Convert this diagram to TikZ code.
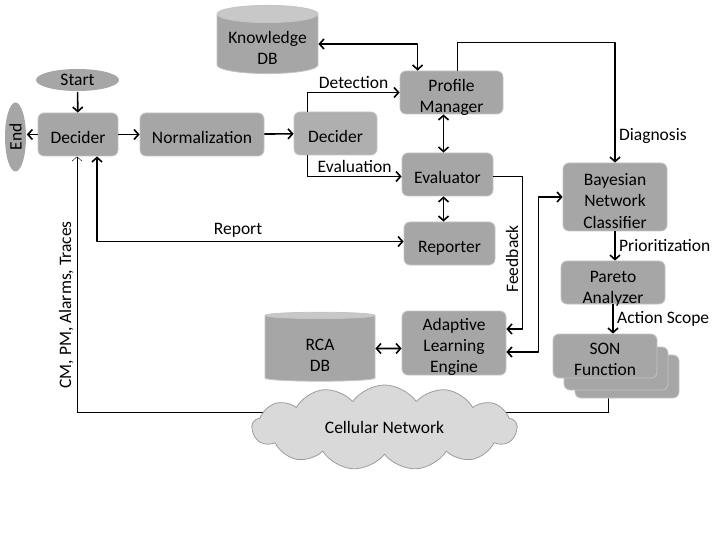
\documentclass[tikz,border=0pt]{standalone}
\usepackage{fontspec}
\setmainfont{Carlito}
\usetikzlibrary{positioning,shapes.geometric,shapes.symbols,arrows.meta,backgrounds}
\definecolor{boxgray}{HTML}{A6A6A6}
\definecolor{boxedge}{HTML}{C4C4C4}
\definecolor{decgray}{HTML}{AFAFAF}
\definecolor{cyltop}{HTML}{C8C8C8}
\definecolor{cloudgray}{HTML}{D9D9D9}
\definecolor{cloudedge}{HTML}{9C9C9C}
\newcommand\tallrow[1][20bp]{\rule{0pt}{#1}}
\tikzset{
  blk/.style={rectangle, rounded corners=6bp, fill=boxgray, draw=boxedge, line width=0.8bp, align=center, inner sep=0pt,
    text depth=0pt, execute at begin node={\tallrow[18bp]}},
  oval/.style={ellipse, fill=boxgray, inner sep=0pt},
  dbase/.style={cylinder, shape border rotate=90, aspect=0.22, cylinder uses custom fill, cylinder body fill=boxgray, cylinder end fill=cyltop, draw=boxedge, line width=0.8bp, align=center, inner sep=0pt, text depth=0pt},
  netcloud/.style={cloud, cloud puffs=13, cloud puff arc=110, aspect=3.1, fill=cloudgray, draw=cloudedge, line width=0.8bp, inner sep=0pt},
}
\begin{document}
\begin{tikzpicture}[x=1bp, y=-1bp, line width=1.6bp, line join=round, >={Straight Barb[length=4.5bp,width=10bp]},
  font=\fontsize{17.5bp}{21bp}\selectfont]
\useasboundingbox (0,0) rectangle (720,540);
% blocks
\node[dbase, minimum width=101bp, minimum height=60bp] (know) at (267.5,44) {\tallrow[21bp]Knowledge\\DB};
\node[oval, minimum width=83bp, minimum height=22bp] (start) at (77.5,80) {Start};
\node[oval, rotate=90, minimum width=69bp, minimum height=21bp] (end) at (15.5,137) {End};
\node[blk, minimum width=80bp, minimum height=43bp] (dec1) at (78,134.5) {Decider};
\node[blk, minimum width=124bp, minimum height=43bp] (norm) at (202,134.5) {Normalization};
\node[blk, fill=decgray, minimum width=83bp, minimum height=43bp] (dec2) at (335.5,133.5) {Decider};
\node[blk, minimum width=103bp, minimum height=43bp] (pm) at (451.5,92.5) {\tallrow Profile\\Manager};
\node[blk, minimum width=91bp, minimum height=43bp] (eval) at (447.5,174.5) {Evaluator};
\node[blk, minimum width=91bp, minimum height=43bp] (rep) at (449.5,243.5) {Reporter};
\node[blk, minimum width=104bp, minimum height=68bp] (bnc) at (615,197) {\tallrow Bayesian\\Network\\Classifier};
\node[blk, minimum width=104bp, minimum height=43bp] (pareto) at (613,282.5) {\tallrow Pareto\\Analyzer};
\node[dbase, minimum width=110bp, minimum height=69bp] (rca) at (320,348.5) {\tallrow[24bp]RCA\\DB};
\node[blk, minimum width=104bp, minimum height=64bp] (ale) at (454,343) {\tallrow[17bp]Adaptive\\Learning\\Engine};
\node[blk, minimum width=104bp, minimum height=43bp] (son3) at (627,376.5) {};
\node[blk, minimum width=104bp, minimum height=43bp] (son2) at (616,368.5) {};
\node[blk, minimum width=104bp, minimum height=44bp] (son1) at (605,356) {\tallrow[18bp]SON\\Function};
\node[netcloud, minimum width=265bp, minimum height=85bp] (cell) at (384.5,427.5) {Cellular Network};
% connectors
\draw[->] (start) -- (dec1);
\draw[->] (dec1.west) -- (dec1.west -| end.south);
\draw[->] (dec1) -- (norm);
\draw[->] (norm) -- (dec2);
\draw[->] ([xshift=14bp]dec2.north west) |- (pm) node[pos=0.75, above]{Detection};
\draw[->] ([xshift=14bp]dec2.south west) |- ([yshift=-2bp]eval.west) node[pos=0.75, above]{Evaluation};
\draw[<->] (know) -| ([xshift=18bp]pm.north west);
\draw[<->] ([xshift=-4bp]pm.south -| eval.north) -- ([xshift=-4bp]eval.north);
\draw[<->] ([xshift=-4bp]eval.south) -- ([xshift=-4bp]eval.south |- rep.north);
\draw[->] ([xshift=6bp]pm.north) -- ++(0,-28) -| (bnc.north) node[pos=0.89, right]{Diagnosis};
\draw[<->] ([xshift=19bp]dec1.south) |- ([yshift=2bp]rep.west) node[pos=0.73, above]{Report};
\draw[->] ([yshift=-2bp]eval.east) -- ++(29,0) |- ([yshift=14bp]ale.east) node[pos=0.27, rotate=90, anchor=south]{Feedback};
\draw[<->] ([yshift=-9bp]ale.east) -- ++(32,0) |- (bnc.west);
\draw[->] (bnc.south) -- (bnc.south |- pareto.north) node[midway, right]{Prioritization};
\draw[->] (pareto.south) -- (pareto.south |- son1.north) node[midway, right]{Action Scope};
\draw[<->] (rca) -- (rca -| ale.west);
\begin{scope}[on background layer]
\draw[->] ([yshift=15bp]cell.center) -| ([xshift=-1bp]dec1.south) node[pos=0.71, rotate=90, anchor=south]{CM, PM, Alarms, Traces};
\draw ([xshift=-19bp]son3.south) |- ([yshift=15bp]cell.center);
\end{scope}
\end{tikzpicture}
\end{document}
